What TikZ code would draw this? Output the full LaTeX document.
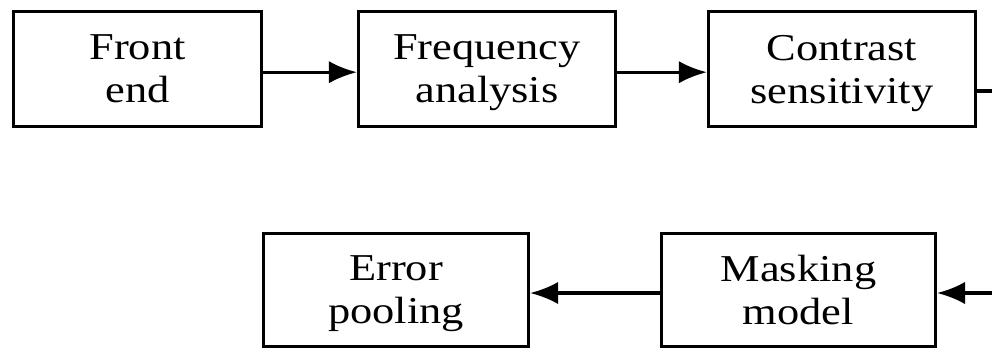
\documentclass[tikz,border=0pt]{standalone}
\usepackage{amsmath}
\usepackage{fontspec}
\setmainfont[FakeStretch=1.17]{Liberation Serif}
\usetikzlibrary{arrows.meta}
\tikzset{
  blk/.style={draw=black, line width=2.2pt, align=center, inner sep=0pt, font=\fontsize{27}{30.6}\selectfont},
  arr/.style={draw=black, line width=2.2pt, -{Latex[length=0.7cm,width=0.56cm]}},
  wire/.style={draw=black, line width=2.2pt},
}
\begin{document}
\begin{tikzpicture}[x=0.025cm, y=-0.025cm]
  \useasboundingbox (0,0) rectangle (992,351);
  % top row
  \node[blk, minimum width=6.2cm, minimum height=2.88cm] (fe) at (137.5,69) {Front\\\smash[b]{end}};
  \node[blk, minimum width=6.43cm, minimum height=2.88cm] (fa) at (487,69) {Frequency\\\smash[b]{analysis}};
  \node[blk, minimum width=6.68cm, minimum height=2.88cm] (cs) at (842,69) {Contrast\\\smash[b]{sensitivity}};
  % bottom row
  \node[blk, minimum width=6.63cm, minimum height=2.83cm] (ep) at (396,290) {Error\\\smash[b]{pooling}};
  \node[blk, minimum width=6.85cm, minimum height=2.83cm] (mm) at (798.5,290) {Masking\\\smash[b]{model}};
  \coordinate (outA) at (992,91);
  \coordinate (outB) at (992,293);
  \draw[arr] ([yshift=-0.08cm]fe.east) -- ([yshift=-0.08cm]fa.west);
  \draw[arr] ([yshift=-0.08cm]fa.east) -- ([yshift=-0.08cm]cs.west);
  \draw[wire] (cs.east |- outA) -- (outA);
  \draw[arr] (outB) -- (mm.east |- outB);
  \draw[arr] (mm.west |- outB) -- (ep.east |- outB);
\end{tikzpicture}
\end{document}
